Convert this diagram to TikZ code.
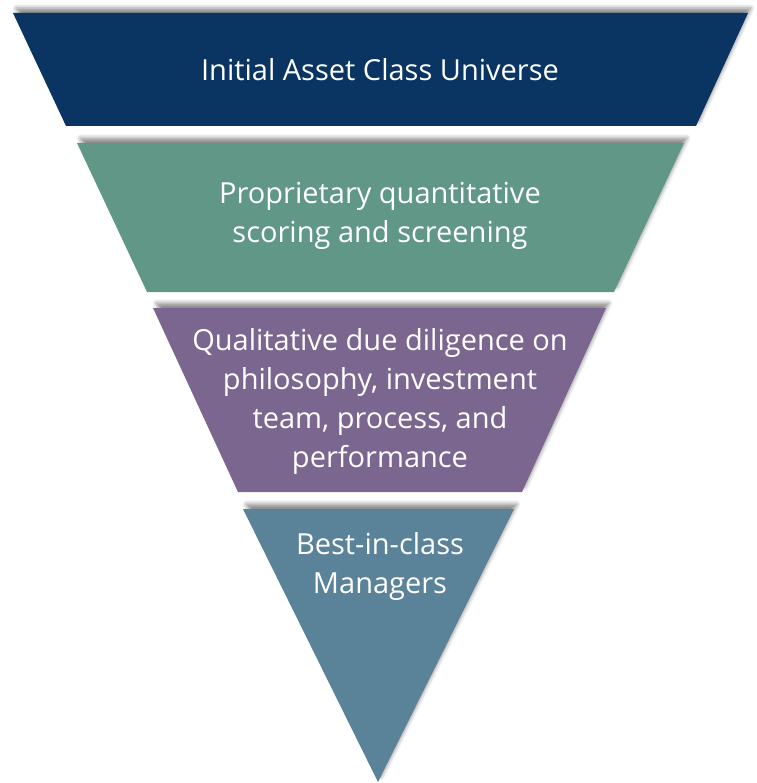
\documentclass[tikz,border=0pt]{standalone}
\usepackage{fontspec}
\setmainfont{Open Sans}
\usetikzlibrary{shadows.blur}
\definecolor{navyband}{HTML}{0A3462}
\definecolor{tealband}{HTML}{609787}
\definecolor{plumband}{HTML}{7A668F}
\definecolor{steelband}{HTML}{5A8299}
\begin{document}
\begin{tikzpicture}[x=1pt,y=-1pt,
	band/.style={blur shadow={shadow xshift=3pt,shadow yshift=5pt,shadow opacity=45,shadow blur radius=4pt}},
	lbl/.style={text=white,align=center,font=\fontsize{29}{39}\selectfont}]
	\useasboundingbox (0,0) rectangle (756,783);
	% funnel bands, top to bottom
	\fill[navyband,band] (13,13) -- (748,13) -- (696,126) -- (66,126) -- cycle;
	\fill[tealband,band] (77,143) -- (684,143) -- (614,292) -- (147,292) -- cycle;
	\fill[plumband,band] (153,308) -- (606,308) -- (522,492) -- (238,492) -- cycle;
	\fill[steelband,band] (243,509) -- (514,509) -- (378,782) -- cycle;
	% labels
	\node[lbl] (universe) at (380,70) {Initial Asset Class Universe};
	\node[lbl] (scoring) at (380,216) {Proprietary quantitative\\scoring and screening};
	\node[lbl] (diligence) at (380,401) {Qualitative due diligence on\\philosophy, investment\\team, process, and\\performance};
	\node[lbl] (managers) at (380,566) {Best-in-class\\Managers};
\end{tikzpicture}
\end{document}
